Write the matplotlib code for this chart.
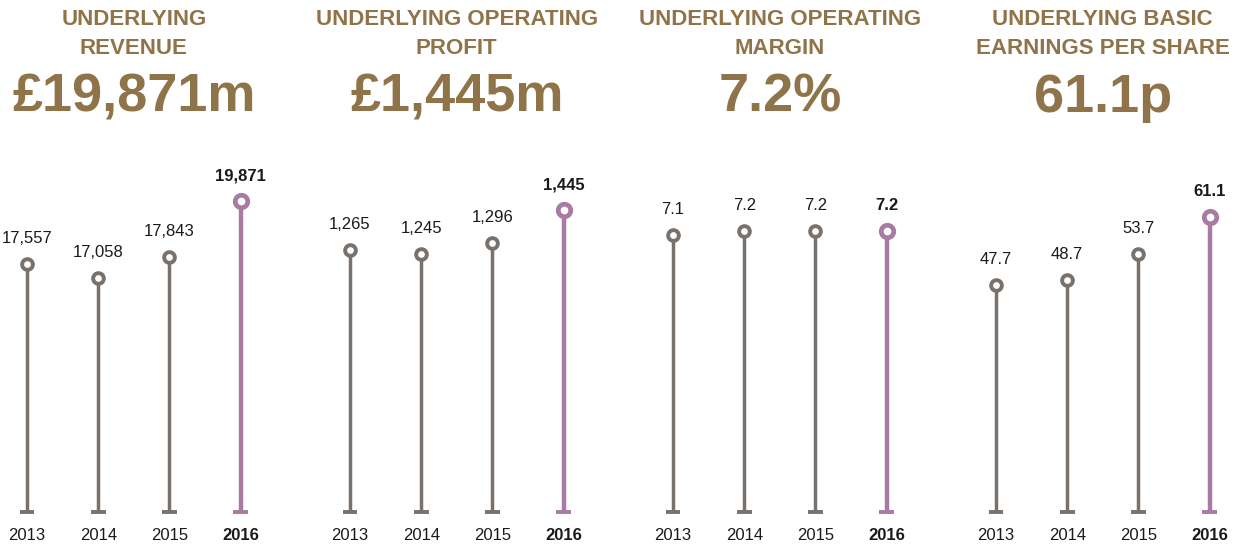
import matplotlib
matplotlib.use("Agg")
import matplotlib.pyplot as plt

years = ["2013", "2014", "2015", "2016"]
titles = ["UNDERLYING\nREVENUE", "UNDERLYING OPERATING\nPROFIT",
          "UNDERLYING OPERATING\nMARGIN", "UNDERLYING BASIC\nEARNINGS PER SHARE"]
headlines = ["£19,871m", "£1,445m", "7.2%", "61.1p"]
revenue = [17557, 17058, 17843, 19871]
op_profit = [1265, 1245, 1296, 1445]
op_margin = [7.1, 7.2, 7.2, 7.2]
eps = [47.7, 48.7, 53.7, 61.1]
labels = [["17,557", "17,058", "17,843", "19,871"],
          ["1,265", "1,245", "1,296", "1,445"],
          ["7.1", "7.2", "7.2", "7.2"],
          ["47.7", "48.7", "53.7", "61.1"]]
series = [revenue, op_profit, op_margin, eps]
# axis ranges (bottom = baseline value, top)
ylims = [(8508, 21369), (72, 1672), (0.175, 8.975), (2.9, 72.3)]

GOLD = "#8f7349"
GRAY = "#78716c"
PURPLE = "#a97aa2"
TXT = "#1a1a1a"

W, H = 1237, 544
fig = plt.figure(figsize=(W / 100, H / 100), dpi=100)
fig.patch.set_facecolor("white")

first_x = [27, 350, 673, 996]
step = 71.2
pad = 0.3
ax_bottom, ax_top = 512, 160

for i in range(4):
    left_px = first_x[i] - pad * step
    width_px = (3 + 2 * pad) * step
    ax = fig.add_axes([left_px / W, (H - ax_bottom) / H, width_px / W, (ax_bottom - ax_top) / H])
    ax.set_xlim(-pad, 3 + pad)
    b, t = ylims[i]
    ax.set_ylim(b, t)
    ax.axis("off")
    for j, v in enumerate(series[i]):
        last = j == 3
        c = PURPLE if last else GRAY
        lw = 3.2 if last else 2.5
        ax.vlines(j, b, v, color=c, linewidth=lw, zorder=2, clip_on=False)
        ax.hlines(b, j - 0.105, j + 0.105, color=c, linewidth=2.8, zorder=2, clip_on=False)
        ax.plot([j], [v], "o", ms=9.0 if last else 7.7, mfc="white", mec=c,
                mew=3.4 if last else 2.8, zorder=3, clip_on=False)
        ax.annotate(labels[i][j], (j, v), xytext=(0, 18.3), textcoords="offset points",
                    ha="center", va="center", fontsize=12, color=TXT,
                    fontweight="bold" if last else "normal",
                    family=["Liberation Sans", "DejaVu Sans"], annotation_clip=False)
        ax.annotate(years[j], (j, b), xytext=(0, -16.8), textcoords="offset points",
                    ha="center", va="center", fontsize=12, color=TXT,
                    fontweight="bold" if last else "normal",
                    family=["Liberation Sans", "DejaVu Sans"], annotation_clip=False)
    cx = (first_x[i] + 1.5 * step) / W
    fig.text(cx, 1 - 34 / H, titles[i], ha="center", va="center", fontsize=16,
             fontweight="bold", color=GOLD, linespacing=1.5,
             family=["Liberation Sans Narrow", "Liberation Sans", "DejaVu Sans"])
    fig.text(cx, 1 - 112 / H, headlines[i], ha="center", va="baseline", fontsize=39,
             fontweight="bold", color=GOLD,
             family=["Liberation Sans", "DejaVu Sans"])

fig.savefig("out.png", dpi=100, facecolor="white")
